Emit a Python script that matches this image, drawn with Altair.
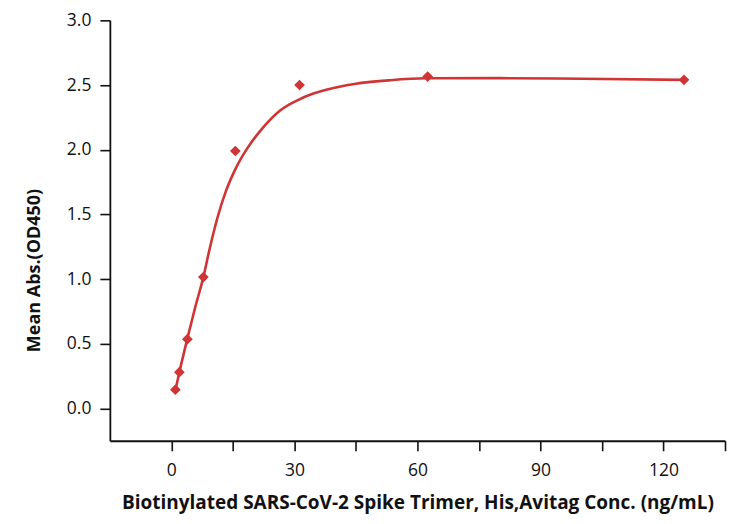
import altair as alt
import pandas as pd

# measured points
conc = [0.98, 1.95, 3.9, 7.8, 15.6, 31.25, 62.5, 125]
absv = [0.145, 0.28, 0.535, 1.015, 1.99, 2.50, 2.565, 2.54]

# fitted curve
curve_x = [0.98, 1.95, 3.9, 5.8, 7.8, 9.2, 11.2, 13.3, 15.7, 18.5, 22.5, 26.6,
           30.6, 34.3, 38, 45, 53, 62, 80, 100, 125]
curve_y = [0.14, 0.28, 0.54, 0.78, 1.015, 1.215, 1.47, 1.68, 1.856, 2.01, 2.177,
           2.305, 2.38, 2.43, 2.465, 2.51, 2.536, 2.552, 2.553, 2.548, 2.54]

x_ticks = [0, 15, 30, 45, 60, 75, 90, 105, 120, 135]
y_ticks = [0, 0.25, 0.5, 0.75, 1.0, 1.25, 1.5, 1.75, 2.0, 2.25, 2.5, 2.75, 3.0]

pts = pd.DataFrame({"x": conc, "y": absv})
cur = pd.DataFrame({"x": curve_x, "y": curve_y})

RED = "#d03434"
FONT = "Open Sans"

xs = alt.Scale(domain=[-15, 135], nice=False, zero=False)
ys = alt.Scale(domain=[-0.25, 3.0], nice=False, zero=False)

xaxis = alt.Axis(values=x_ticks,
                 labelExpr="datum.value % 30 == 0 ? datum.label : ''",
                 title="Biotinylated SARS-CoV-2 Spike Trimer, His,Avitag Conc. (ng/mL)",
                 grid=False, tickSize=10, labelPadding=11, titlePadding=14,
                 titleFontSize=19)
yaxis = alt.Axis(values=y_ticks, format=".1f",
                 labelExpr="datum.value % 0.5 == 0 ? datum.label : ''",
                 title="Mean Abs.(OD450)", grid=False, tickSize=10,
                 labelPadding=9, titleFontSize=18, titleX=-66, titleY=250)

line = alt.Chart(cur).mark_line(color=RED, strokeWidth=2.6, interpolate="monotone").encode(
    x=alt.X("x:Q", scale=xs, axis=xaxis),
    y=alt.Y("y:Q", scale=ys, axis=yaxis),
)
points = alt.Chart(pts).mark_point(shape="diamond", filled=True, color=RED, size=115, opacity=1).encode(
    x=alt.X("x:Q", scale=xs),
    y=alt.Y("y:Q", scale=ys),
)

chart = alt.layer(line, points).properties(
    width=616, height=421,
    autosize=alt.AutoSizeParams(type="none"),
    padding={"left": 102, "top": 12, "right": 5, "bottom": 80},
).configure_view(stroke=None).configure_axis(
    domainColor="#111111", tickColor="#111111", domainWidth=1.8, tickWidth=1.6,
    labelFont=FONT, titleFont=FONT, labelFontSize=17.5, labelColor="#111111",
    titleColor="#111111", titleFontWeight="bold",
)

chart.save("out.html", embed_options={"renderer": "svg", "actions": False})
